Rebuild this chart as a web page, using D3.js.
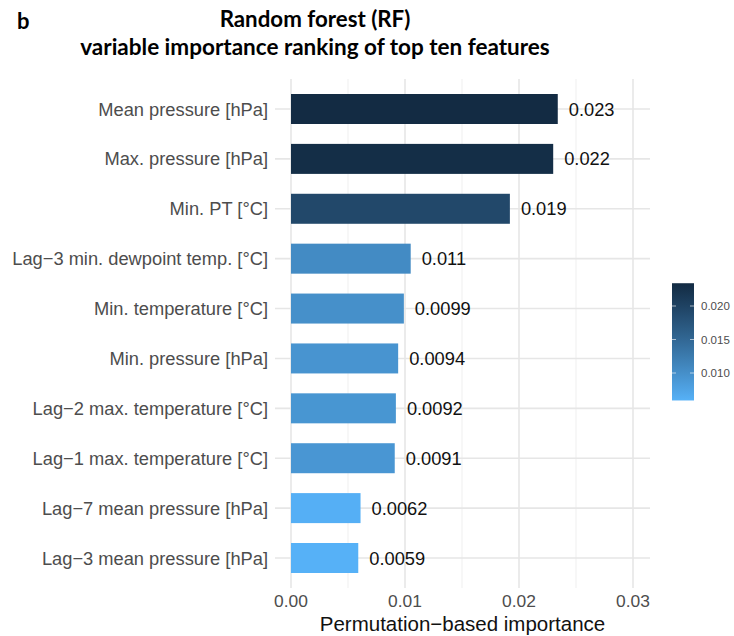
<!DOCTYPE html>
<html><head><meta charset="utf-8">
<script src="https://cdn.jsdelivr.net/npm/d3@7"></script>
<style>body{margin:0;background:#fff}</style>
</head><body>
<script>
const features = ["Mean pressure [hPa]","Max. pressure [hPa]","Min. PT [°C]","Lag\u22123 min. dewpoint temp. [°C]","Min. temperature [°C]","Min. pressure [hPa]","Lag\u22122 max. temperature [°C]","Lag\u22121 max. temperature [°C]","Lag\u22127 mean pressure [hPa]","Lag\u22123 mean pressure [hPa]"];
const importance = [0.0234, 0.0230, 0.0192, 0.0105, 0.0099, 0.0094, 0.0092, 0.0091, 0.0061, 0.0059];
const valueLabels = ["0.023","0.022","0.019","0.011","0.0099","0.0094","0.0092","0.0091","0.0062","0.0059"];
const xTicks = [0, 0.01, 0.02, 0.03];
const xMinor = [0.005, 0.015, 0.025];
const legendTicks = [0.010, 0.015, 0.020];

const W = 734, H = 636;
const svg = d3.select("body").append("svg").attr("width", W).attr("height", H);
const font = "'Liberation Sans', Arial, sans-serif";
const fs = 18.3;

const panel = {left: 275, right: 650, top: 79, bottom: 588};
const x = d3.scaleLinear().domain([0, 0.03]).range([291, 633]);
const y = d3.scalePoint().domain(features).range([109, 558]);
const barH = 30;
const minV = d3.min(importance), maxV = d3.max(importance);
const color = d3.scaleLinear().domain([minV, maxV]).range(["#56B1F7", "#132B43"]).interpolate(d3.interpolateLab);

// grid
const g = svg.append("g");
g.selectAll(".minor").data(xMinor).join("line")
  .attr("x1", d => x(d)).attr("x2", d => x(d)).attr("y1", panel.top).attr("y2", panel.bottom)
  .attr("stroke", "#ebebeb").attr("stroke-width", 0.8);
g.selectAll(".major").data(xTicks).join("line")
  .attr("x1", d => x(d)).attr("x2", d => x(d)).attr("y1", panel.top).attr("y2", panel.bottom)
  .attr("stroke", "#e6e6e6").attr("stroke-width", 1.6);
g.selectAll(".hy").data(features).join("line")
  .attr("x1", panel.left).attr("x2", panel.right)
  .attr("y1", d => y(d)).attr("y2", d => y(d))
  .attr("stroke", "#e6e6e6").attr("stroke-width", 1.6);

// bars
svg.selectAll(".bar").data(features).join("rect")
  .attr("x", x(0)).attr("y", d => y(d) - barH/2)
  .attr("width", (d, i) => x(importance[i]) - x(0)).attr("height", barH)
  .attr("fill", (d, i) => color(importance[i]));

svg.selectAll(".val").data(features).join("text")
  .attr("x", (d, i) => x(importance[i]) + 11).attr("y", d => y(d))
  .attr("dy", "0.36em").attr("font-family", font).attr("font-size", fs).attr("fill", "#111")
  .text((d, i) => valueLabels[i]);

// y labels
svg.selectAll(".ylab").data(features).join("text")
  .attr("x", 268).attr("y", d => y(d)).attr("dy", "0.36em")
  .attr("text-anchor", "end").attr("font-family", font).attr("font-size", fs).attr("fill", "#4d4d4d")
  .text(d => d);

// x tick labels
svg.selectAll(".xlab").data(xTicks).join("text")
  .attr("x", d => x(d)).attr("y", 607).attr("text-anchor", "middle")
  .attr("font-family", font).attr("font-size", 17.4).attr("fill", "#4d4d4d")
  .text(d => d3.format(".2f")(d));

svg.append("text").attr("x", (panel.left + panel.right)/2).attr("y", 631).attr("text-anchor", "middle")
  .attr("font-family", font).attr("font-size", 20.5).attr("fill", "#111")
  .text("Permutation\u2212based importance");

// titles
const tfont = "Lato, 'Open Sans', sans-serif";
svg.append("text").attr("x", 17).attr("y", 29).attr("font-family", tfont).attr("font-weight", "bold")
  .attr("font-size", 22).attr("fill", "#000").text("b");
svg.append("text").attr("x", 315).attr("y", 27).attr("text-anchor", "middle").attr("font-family", tfont)
  .attr("font-weight", "bold").attr("font-size", 22.3).attr("fill", "#000").text("Random forest (RF)");
svg.append("text").attr("x", 315).attr("y", 55).attr("text-anchor", "middle").attr("font-family", tfont)
  .attr("font-weight", "bold").attr("font-size", 22.5).attr("fill", "#000").text("variable importance ranking of top ten features");

// legend
const ly = d3.scaleLinear().domain([0.020, 0.010]).range([306, 373]);
const lx0 = 672, lw = 22;
const defs = svg.append("defs");
const grad = defs.append("linearGradient").attr("id", "lg").attr("x1", 0).attr("x2", 0).attr("y1", 1).attr("y2", 0);
d3.range(0, 1.0001, 0.1).forEach(t => {
  grad.append("stop").attr("offset", t).attr("stop-color", color(minV + t * (maxV - minV)));
});
svg.append("rect").attr("x", lx0).attr("y", ly(maxV)).attr("width", lw).attr("height", ly(minV) - ly(maxV))
  .attr("fill", "url(#lg)");
legendTicks.forEach(v => {
  svg.append("line").attr("x1", lx0).attr("x2", lx0 + 4).attr("y1", ly(v)).attr("y2", ly(v)).attr("stroke", "#fff").attr("stroke-opacity", 0.6);
  svg.append("line").attr("x1", lx0 + lw - 4).attr("x2", lx0 + lw).attr("y1", ly(v)).attr("y2", ly(v)).attr("stroke", "#fff").attr("stroke-opacity", 0.6);
});
svg.selectAll(".leglab").data(legendTicks).join("text")
  .attr("x", 701).attr("y", d => ly(d)).attr("dy", "0.36em")
  .attr("font-family", font).attr("font-size", 11.5).attr("fill", "#4d4d4d")
  .text(d => d3.format(".3f")(d));
</script>
</body></html>
